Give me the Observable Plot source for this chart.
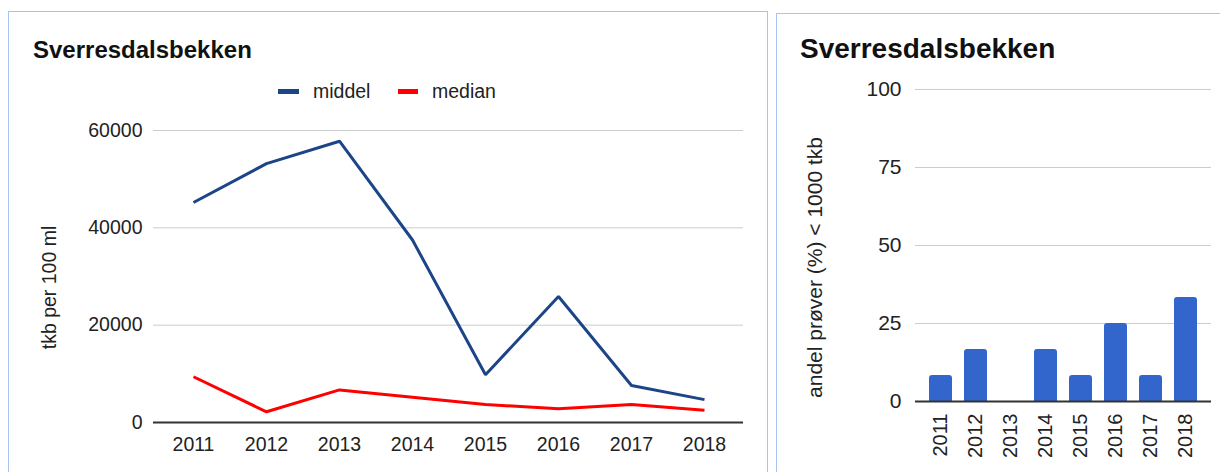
<!DOCTYPE html>
<html><head><meta charset="utf-8">
<script src="https://cdn.jsdelivr.net/npm/d3@7"></script>
<script src="https://cdn.jsdelivr.net/npm/@observablehq/plot@0.6"></script>
<style>
body{margin:0;background:#fff;font-family:"Liberation Sans",Arial,sans-serif;}
#wrap{position:relative;width:1220px;height:472px;overflow:hidden;background:#fff}
.panel{position:absolute;border:1px solid #a8c4f0;background:transparent}
.abs{position:absolute;line-height:1;white-space:nowrap;color:#222}
.sw{position:absolute;height:5px}
</style></head><body>
<div id="wrap">
  <div id="left" style="position:absolute;left:0;top:0"></div>
  <div id="right" style="position:absolute;left:776px;top:0"></div>
  <div class="panel" style="left:8px;top:11px;width:758px;height:500px"></div>
  <div class="panel" style="left:776px;top:13px;width:500px;height:500px"></div>
  <div class="abs" id="t1" style="left:33px;top:37.7px;font-size:24px;font-weight:bold;color:#111"></div>
  <div class="abs" id="t2" style="left:800px;top:35px;font-size:28px;font-weight:bold;color:#111"></div>
  <div class="sw" id="sw1" style="left:278px;top:88.5px;width:21px"></div>
  <div class="abs" id="lg1" style="left:313px;top:82px;font-size:19.5px"></div>
  <div class="sw" id="sw2" style="left:398px;top:88.5px;width:20px"></div>
  <div class="abs" id="lg2" style="left:432px;top:82px;font-size:19.5px"></div>
</div>
<script>
const title = "Sverresdalsbekken";
const years = ["2011","2012","2013","2014","2015","2016","2017","2018"];
const seriesNames = ["middel","median"];
const seriesColors = ["#1c4587","#ff0000"];
const middel = [45200, 53200, 57800, 37500, 9800, 25900, 7600, 4700];
const median = [9400, 2200, 6700, 5200, 3700, 2850, 3700, 2500];
const andel = [8.3, 16.7, 0, 16.7, 8.3, 25, 8.3, 33.3];
const leftTicks = [0, 20000, 40000, 60000];
const rightTicks = [0, 25, 50, 75, 100];
const leftLabel = "tkb per 100 ml";
const rightLabel = "andel prøver (%) < 1000 tkb";

document.getElementById("t1").textContent = title;
document.getElementById("t2").textContent = title;
document.getElementById("lg1").textContent = seriesNames[0];
document.getElementById("lg2").textContent = seriesNames[1];
document.getElementById("sw1").style.background = seriesColors[0];
document.getElementById("sw2").style.background = seriesColors[1];

const lineData = [];
years.forEach((y, i) => {
  lineData.push({year: y, value: middel[i], series: seriesNames[0]});
});
years.forEach((y, i) => {
  lineData.push({year: y, value: median[i], series: seriesNames[1]});
});
const barData = years.map((y, i) => ({year: y, value: andel[i]}));

const font = '"Liberation Sans", Arial, sans-serif';

const left = Plot.plot({
  width: 767, height: 472,
  marginLeft: 153, marginRight: 24, marginTop: 130, marginBottom: 50,
  style: {fontFamily: font, background: "transparent", color: "#222"},
  x: {type: "point", domain: years, padding: 0.5, label: null},
  y: {domain: [0, 60000], label: null},
  color: {domain: seriesNames, range: seriesColors},
  marks: [
    Plot.ruleY(leftTicks.filter(d => d > 0), {stroke: "#cccccc", strokeWidth: 1}),
    Plot.axisY({ticks: leftTicks, tickSize: 0, tickPadding: 11, fontSize: 19.5, tickFormat: d => String(d), label: null, fill: "#222"}),
    Plot.axisX({tickSize: 0, tickPadding: 15, fontSize: 19.5, label: null, fill: "#222"}),
    Plot.text([leftLabel], {text: d => d, frameAnchor: "left", textAnchor: "middle", lineAnchor: "middle", rotate: -90, dx: -104, dy: 11, fontSize: 19.5, fill: "#222"}),
    Plot.ruleY([0], {stroke: "#333", strokeWidth: 2}),
    Plot.line(lineData, {x: "year", y: "value", z: "series", stroke: "series", strokeWidth: 3, strokeLinejoin: "miter", strokeLinecap: "butt"})
  ]
});
document.getElementById("left").appendChild(left);

const right = Plot.plot({
  width: 444, height: 472,
  marginLeft: 139, marginRight: 9, marginTop: 89, marginBottom: 71,
  style: {fontFamily: font, background: "transparent", color: "#222"},
  x: {type: "band", domain: years, padding: 0.34, label: null},
  y: {domain: [0, 100], label: null},
  marks: [
    Plot.ruleY(rightTicks.filter(d => d > 0), {stroke: "#cccccc", strokeWidth: 1}),
    Plot.axisY({ticks: rightTicks, tickSize: 0, tickPadding: 14, fontSize: 21, label: null, fill: "#222"}),
    Plot.axisX({tickSize: 0, tickPadding: 12, tickRotate: -90, fontSize: 20, label: null, fill: "#222"}),
    Plot.text([rightLabel], {text: d => d, frameAnchor: "left", textAnchor: "middle", lineAnchor: "middle", rotate: -90, dx: -100, dy: 22, fontSize: 21, fill: "#222"}),
    Plot.barY(barData, {x: "year", y: "value", fill: "#3366cc", ry1: 3}),
    Plot.ruleY([0], {stroke: "#333", strokeWidth: 2})
  ]
});
document.getElementById("right").appendChild(right);
</script>
</body></html>
